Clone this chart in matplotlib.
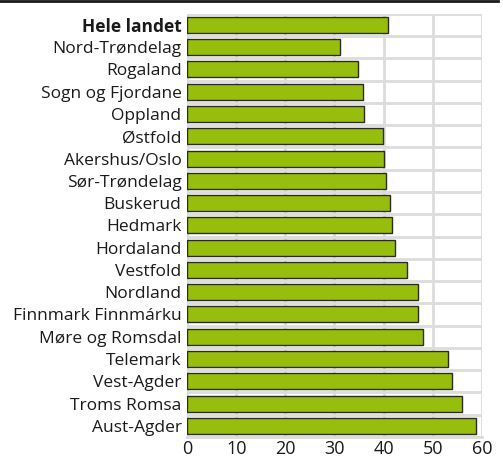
import numpy as np
import matplotlib.pyplot as plt

plt.rcParams['font.family'] = ['Open Sans', 'DejaVu Sans']

fylker = ['Hele landet', 'Nord-Trøndelag', 'Rogaland', 'Sogn og Fjordane',
          'Oppland', 'Østfold', 'Akershus/Oslo', 'Sør-Trøndelag', 'Buskerud',
          'Hedmark', 'Hordaland', 'Vestfold', 'Nordland',
          'Finnmark Finnmárku', 'Møre og Romsdal', 'Telemark', 'Vest-Agder',
          'Troms Romsa', 'Aust-Agder']
verdier = [40.9, 31.2, 34.8, 35.9, 36.0, 39.9, 40.1, 40.4, 41.2, 41.8,
           42.4, 44.7, 47.0, 47.0, 48.0, 53.1, 54.0, 56.0, 58.8]
x_ticks = [0, 10, 20, 30, 40, 50, 60]

fig = plt.figure(figsize=(5.03, 4.59), dpi=100)
ax = fig.add_axes([0.372, 0.048, 0.586, 0.922])

y = np.arange(len(fylker))
ax.barh(y, verdier, height=0.72, color='#97be0d', edgecolor='#2b2b1f',
        linewidth=1.0, zorder=3)

ax.set_ylim(len(fylker) - 0.5, -0.5)
ax.set_xlim(0, 60)
ax.set_xticks(x_ticks)
ax.set_yticks(y)
ax.set_yticklabels(fylker)
ax.get_yticklabels()[0].set_fontweight('bold')

# grid: vertical at ticks, horizontal between bars
ax.set_yticks(np.arange(len(fylker) + 1) - 0.5, minor=True)
ax.grid(axis='x', which='major', color='#dcdcdc', linewidth=2, zorder=0)
ax.grid(axis='y', which='minor', color='#dcdcdc', linewidth=2, zorder=0)
ax.grid(axis='y', which='major', visible=False)

for s in ['top', 'left', 'right']:
    ax.spines[s].set_visible(False)
ax.spines['bottom'].set_color('#dcdcdc')
ax.spines['bottom'].set_linewidth(2)

ax.tick_params(axis='both', which='both', length=0, colors='#1a1a1a')
ax.tick_params(axis='y', pad=4, labelsize=12.5)
ax.tick_params(axis='x', pad=2, labelsize=13)

# black rule across the top
fig.add_artist(plt.Line2D([0, 0.99], [0.997, 0.997], color='#1a1a1a',
                          linewidth=2, transform=fig.transFigure))

fig.savefig('out.png', dpi=100)
